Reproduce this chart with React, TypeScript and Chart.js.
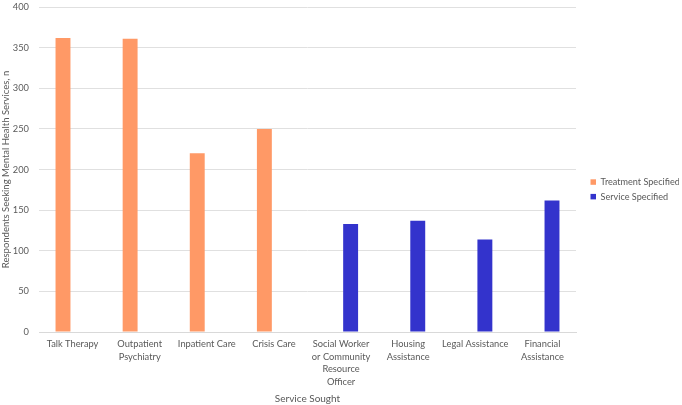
import React, { useEffect, useRef } from "react";
import { Chart, registerables } from "chart.js";

Chart.register(...registerables);

const categories: (string | string[])[] = [
  "Talk Therapy",
  ["Outpatient", "Psychiatry"],
  "Inpatient Care",
  "Crisis Care",
  ["Social Worker", "or Community", "Resource", "Officer"],
  ["Housing", "Assistance"],
  "Legal Assistance",
  ["Financial", "Assistance"],
];
const treatmentSpecified: (number | null)[] = [362, 361, 220, 250, null, null, null, null];
const serviceSpecified: (number | null)[] = [null, null, null, null, 133, 137, 114, 162];
const yTicks = { min: 0, max: 400, step: 50 };

const FONT = "Lato, 'Open Sans', sans-serif";
const TEXT = "#595959";

const legendPlace = {
  id: "legendPlace",
  afterLayout(chart: any) {
    const lg = chart.legend;
    if (!lg) return;
    const w = lg.width;
    const h = lg.height;
    lg.left = 585;
    lg.right = 585 + w;
    lg.top = 172;
    lg.bottom = 172 + h;
  },
};

export default function App() {
  const ref = useRef<HTMLCanvasElement | null>(null);
  useEffect(() => {
    document.body.style.margin = "0";
    if (!ref.current) return;
    const chart = new Chart(ref.current, {
      type: "bar",
      data: {
        labels: categories,
        datasets: [
          {
            label: "Treatment Specified",
            data: treatmentSpecified,
            backgroundColor: "#FF9966",
            borderWidth: 0,
            categoryPercentage: 0.57,
            barPercentage: 0.78,
          },
          {
            label: "Service Specified",
            data: serviceSpecified,
            backgroundColor: "#3333CC",
            borderWidth: 0,
            categoryPercentage: 0.57,
            barPercentage: 0.78,
          },
        ],
      },
      plugins: [legendPlace],
      options: {
        animation: false,
        responsive: false,
        maintainAspectRatio: false,
        layout: { padding: { top: 0, right: 12, left: 0, bottom: 0 } },
        plugins: {
          tooltip: { enabled: false },
          legend: {
            position: "right",
            align: "start",
            maxWidth: 94,
            labels: {
              boxWidth: 5.5,
              boxHeight: 5.5,
              padding: 5.5,
              color: TEXT,
              font: { family: FONT, size: 9.1 },
            },
          },
        },
        scales: {
          x: {
            grid: { display: false, drawTicks: false },
            border: { color: "#d9d9d9" },
            afterFit(scale: any) {
              scale.height = 73;
              scale.paddingLeft = 0;
              scale.paddingRight = 0;
            },
            ticks: {
              color: TEXT,
              font: { family: FONT, size: 9.3, lineHeight: "12.5px" },
              maxRotation: 0,
              autoSkip: false,
              padding: 6,
            },
            title: {
              display: true,
              text: "Service Sought",
              color: TEXT,
              font: { family: FONT, size: 10 },
              padding: { top: 0, bottom: 0 },
            },
          },
          y: {
            min: yTicks.min,
            max: yTicks.max,
            grid: { color: "#e0e0e0", drawTicks: false },
            border: { display: false },
            afterFit(scale: any) {
              scale.width = 39;
              scale.paddingTop = 7;
              scale.paddingBottom = 0;
            },
            ticks: {
              stepSize: yTicks.step,
              color: TEXT,
              font: { family: FONT, size: 9.3 },
              padding: 10,
            },
            title: {
              display: true,
              text: "Respondents Seeking Mental Health Services, n",
              color: TEXT,
              font: { family: FONT, size: 9.5 },
              padding: { top: 0, bottom: 0 },
            },
          },
        },
      },
    });
    return () => chart.destroy();
  }, []);
  return (
    <div style={{ position: "fixed", left: 0, top: 0, width: 682, height: 405, background: "#fff" }}>
      <canvas ref={ref} width={682} height={405} style={{ width: 682, height: 405 }} />
    </div>
  );
}
